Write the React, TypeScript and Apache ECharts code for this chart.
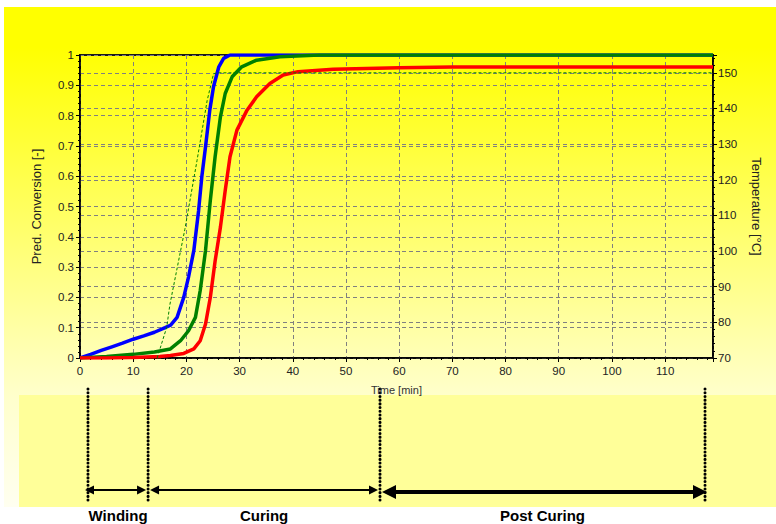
import React, { useEffect, useRef } from "react";
import * as echarts from "echarts";

// ---- data ----
const timeTicks = [0, 10, 20, 30, 40, 50, 60, 70, 80, 90, 100, 110];
const blueConversion: [number, number][] = [
  [0, 0], [2, 0.012], [4, 0.025], [6, 0.037], [8, 0.049], [10, 0.062], [12, 0.073],
  [14, 0.085], [16, 0.1], [17, 0.108], [18.25, 0.134], [19.5, 0.2], [20.4, 0.267],
  [21.4, 0.355], [22.3, 0.487], [22.9, 0.598], [23.6, 0.697], [24.4, 0.818],
  [25.1, 0.895], [26.1, 0.961], [27, 0.989], [28.2, 1.0], [119, 1.0],
];
const greenConversion: [number, number][] = [
  [0, 0], [5, 0.005], [10, 0.012], [14, 0.02], [17, 0.03], [18.9, 0.057], [20.4, 0.09],
  [21.7, 0.134], [22.6, 0.223], [23.6, 0.355], [24.5, 0.52], [25.4, 0.664],
  [26.4, 0.796], [27.3, 0.873], [28.6, 0.928], [30.4, 0.961], [33.2, 0.983],
  [37.6, 0.994], [45, 1.0], [119, 1.0],
];
const redConversion: [number, number][] = [
  [0, 0], [5, 0.0], [10, 0.002], [15, 0.005], [17, 0.008], [19.5, 0.015], [21.4, 0.03],
  [22.6, 0.057], [23.6, 0.112], [24.5, 0.2], [25.4, 0.32], [26.4, 0.432], [27.3, 0.553],
  [28.2, 0.664], [29.5, 0.752], [31.4, 0.818], [33.2, 0.862], [35.7, 0.906],
  [38.2, 0.934], [41, 0.945], [47.6, 0.953], [60, 0.958], [70, 0.96], [119, 0.96],
];
const temperature: [number, number][] = [
  [14.5, 70], [16.3, 78.6], [16.9, 85], [19.7, 106], [22, 125.4], [23.9, 142.2],
  [25.1, 149.7], [25.8, 150], [119, 150],
];
const phaseBoundaries = [1.5, 12.8, 56.4, 117.5];
const phaseLabels = ["Winding", "Curing", "Post Curing"];

const SANS = "'Liberation Sans', Arial, sans-serif";
const GRID = { color: "#808080", type: [4, 3] as number[], width: 1 };

export default function App() {
  const ref = useRef<HTMLDivElement>(null);
  useEffect(() => {
    const chart = echarts.init(ref.current!, null, { renderer: "svg" });
    const option: any = {
      animation: false,
      grid: { left: 80, right: 63, top: 55, bottom: 166, show: true, borderColor: "#1a1a1a", borderWidth: 2, backgroundColor: "transparent" },
      xAxis: {
        type: "value", min: 0, max: 119, interval: 10,
        name: "Time [min]", nameLocation: "middle", nameGap: 26,
        nameTextStyle: { fontSize: 11, color: "#333", fontFamily: SANS },
        axisLine: { lineStyle: { color: "#000", width: 1.5 } },
        axisTick: { length: 4, lineStyle: { color: "#000" } },
        minorTick: { show: true, splitNumber: 5, length: 2, lineStyle: { color: "#000" } },
        axisLabel: { fontSize: 11.5, color: "#222", fontFamily: SANS, margin: 7, showMaxLabel: false,
          formatter: (v: number) => (timeTicks.includes(v) ? String(v) : "") },
        splitLine: { show: true, lineStyle: GRID },
      },
      yAxis: [
        {
          type: "value", min: 0, max: 1, interval: 0.1,
          name: "Pred. Conversion [-]", nameLocation: "middle", nameGap: 37,
          nameTextStyle: { fontSize: 13, color: "#222", fontFamily: SANS },
          axisLine: { show: true, lineStyle: { color: "#000", width: 1.5 } },
          axisTick: { show: true, length: 4, lineStyle: { color: "#000" } },
          minorTick: { show: true, splitNumber: 5, length: 2, lineStyle: { color: "#000" } },
          axisLabel: { fontSize: 11.5, color: "#222", fontFamily: SANS, margin: 6 },
          splitLine: { show: true, lineStyle: GRID },
        },
        {
          type: "value", min: 70, max: 155, interval: 10, position: "right",
          name: "Temperature [°C]", nameLocation: "middle", nameGap: 37, nameRotate: -90,
          nameTextStyle: { fontSize: 13, color: "#222", fontFamily: SANS },
          axisLine: { show: true, lineStyle: { color: "#000", width: 1.5 } },
          axisTick: { show: true, length: 4, lineStyle: { color: "#000" } },
          minorTick: { show: true, splitNumber: 5, length: 2, lineStyle: { color: "#000" } },
          axisLabel: { fontSize: 11.5, color: "#222", fontFamily: SANS, margin: 5, showMaxLabel: false },
          splitLine: { show: true, lineStyle: GRID },
        },
      ],
      series: [
        { type: "line", data: blueConversion, showSymbol: false, lineStyle: { color: "#0000ff", width: 3.5 }, z: 3 },
        { type: "line", data: greenConversion, showSymbol: false, lineStyle: { color: "#008000", width: 3.5 }, z: 4 },
        { type: "line", data: redConversion, showSymbol: false, lineStyle: { color: "#ff0000", width: 3.5 }, z: 5 },
        { type: "line", yAxisIndex: 1, data: temperature, showSymbol: false, lineStyle: { color: "#008000", width: 1, type: [3, 2] }, z: 6 },
      ],
    };
    chart.setOption(option);

    const px = (t: number) => chart.convertToPixel({ xAxisIndex: 0 }, t) as number;
    const xs = phaseBoundaries.map(px);
    const elements: any[] = [];
    xs.forEach((x) => {
      elements.push({
        type: "line", shape: { x1: x, y1: 389, x2: x, y2: 502 },
        style: { stroke: "#000", lineWidth: 3, lineDash: [0.1, 3.6], lineCap: "round" },
      });
    });
    phaseLabels.forEach((label, i) => {
      const a = xs[i] + (i === 0 ? -3 : 2);
      const b = xs[i + 1] + (i === phaseLabels.length - 1 ? 2 : -2);
      const heavy = i === phaseLabels.length - 1;
      const y = heavy ? 492 : 490;
      const hl = heavy ? 14 : 9;
      const hh = heavy ? 7 : 4.5;
      elements.push({ type: "line", shape: { x1: a + hl - 1, y1: y, x2: b - hl + 1, y2: y }, style: { stroke: "#000", lineWidth: heavy ? 4 : 2.2 } });
      elements.push({ type: "polygon", shape: { points: [[a, y], [a + hl, y - hh], [a + hl, y + hh]] }, style: { fill: "#000" } });
      elements.push({ type: "polygon", shape: { points: [[b, y], [b - hl, y - hh], [b - hl, y + hh]] }, style: { fill: "#000" } });
      elements.push({
        type: "text", x: (xs[i] + xs[i + 1]) / 2, y: 515,
        style: { text: label, fill: "#000", font: `bold 15px ${SANS}`, align: "center", verticalAlign: "middle" },
      });
    });
    chart.setOption({ graphic: { elements } });
    return () => chart.dispose();
  }, []);

  return (
    <div style={{ position: "absolute", left: 0, top: 0, width: 776, height: 524, background: "#fff", overflow: "hidden" }}>
      <div style={{ position: "absolute", left: 4, top: 7, width: 772, height: 500,
        background: "linear-gradient(to bottom, #ffff00 0%, #ffff00 8%, #ffffb0 68%, #ffffcc 78%, #fffff0 100%)" }} />
      <div style={{ position: "absolute", left: 19, top: 395, width: 757, height: 112, background: "#ffff99" }} />
      <div ref={ref} style={{ position: "absolute", left: 0, top: 0, width: 776, height: 524 }} />
    </div>
  );
}
